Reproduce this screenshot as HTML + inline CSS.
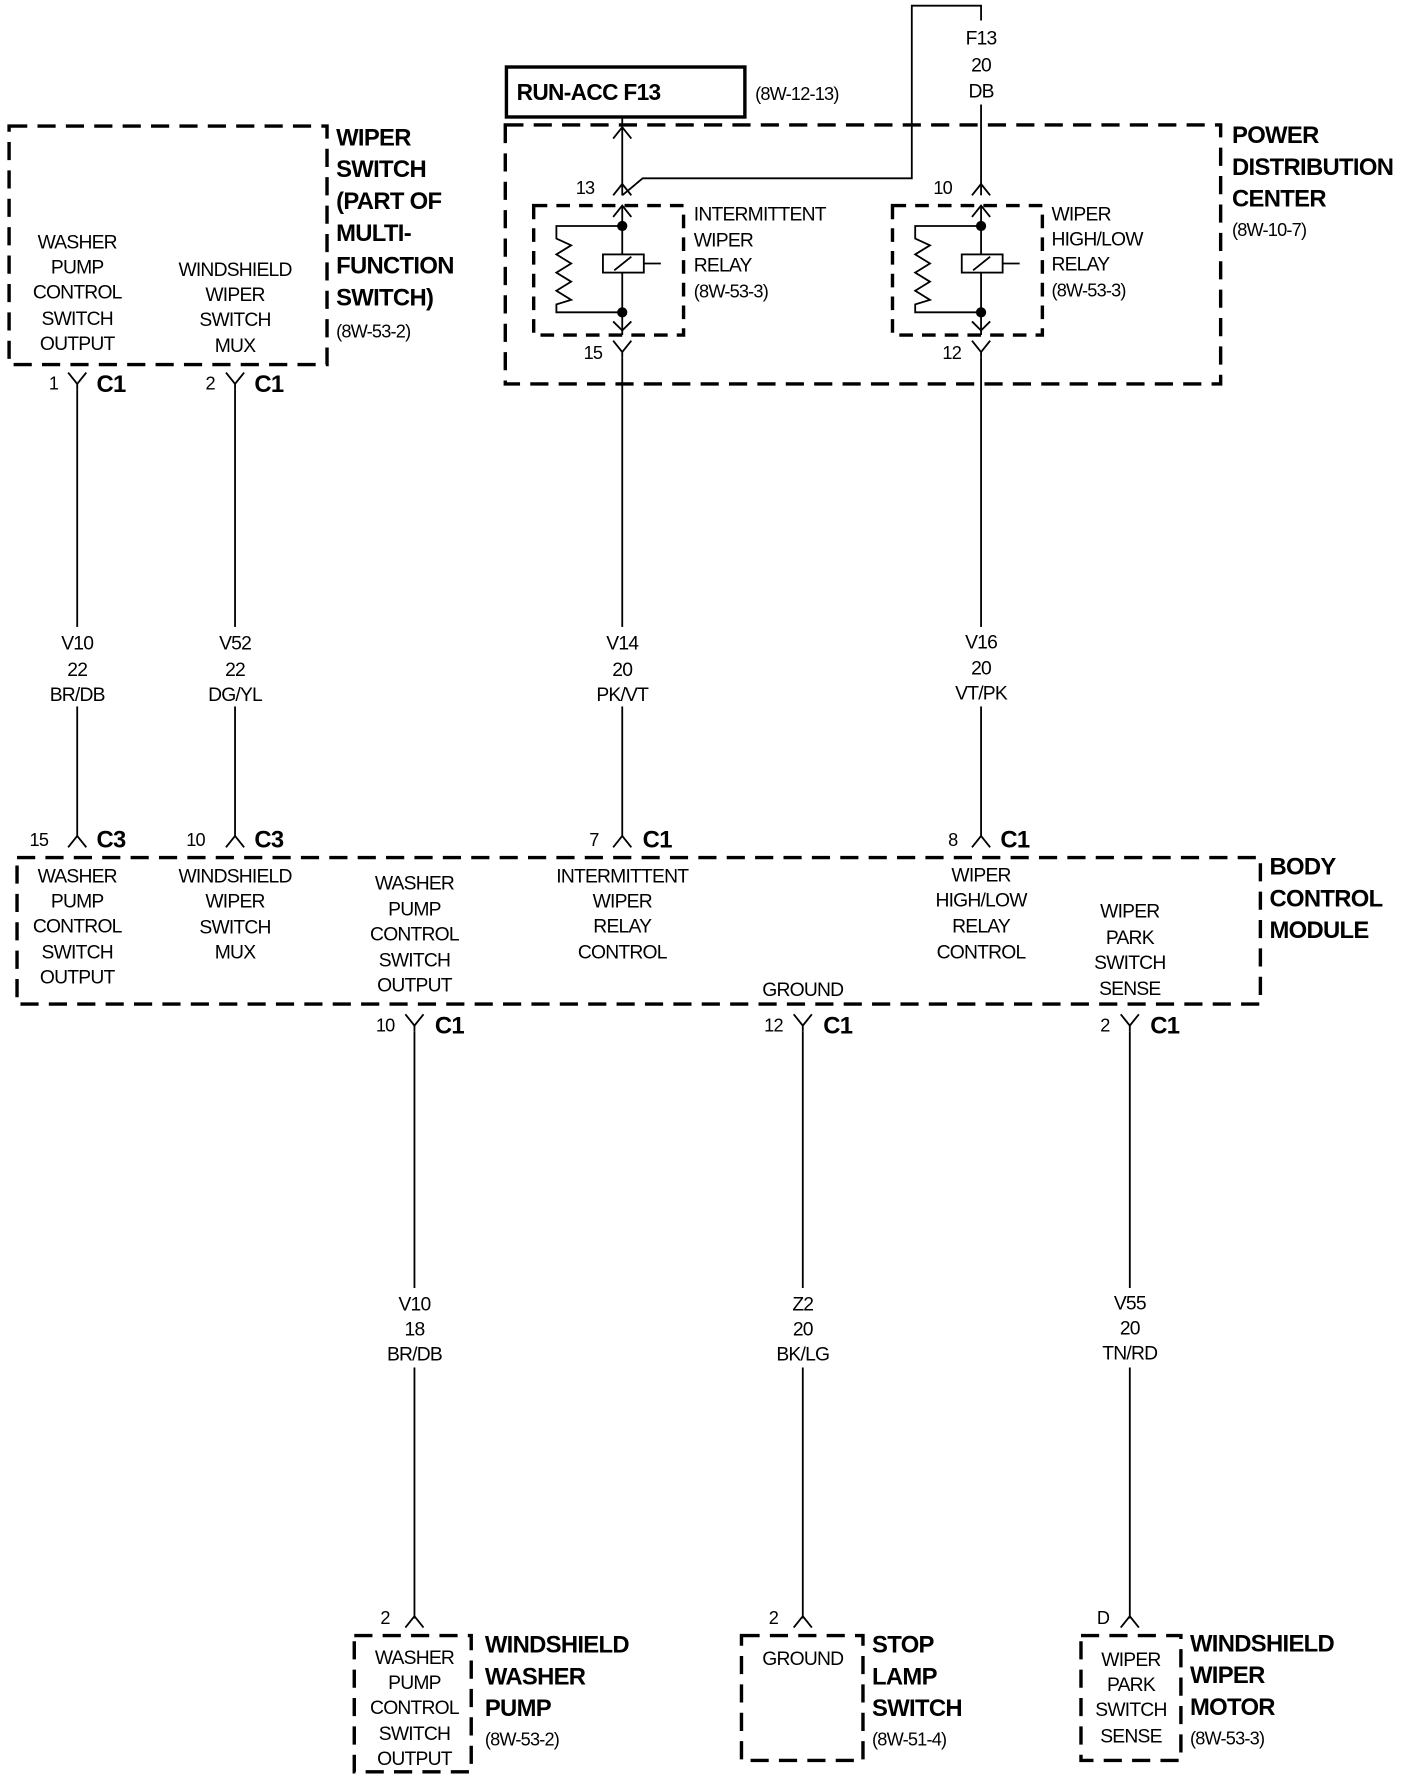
<!DOCTYPE html>
<html><head><meta charset="utf-8"><style>
html,body{margin:0;padding:0;background:#fff;}
svg{display:block;}
text{font-family:"Liberation Sans Narrow","Liberation Sans",sans-serif;font-size:17px;fill:#000;letter-spacing:-0.7px;}
.c{text-anchor:middle;}
.b{font-family:"Liberation Sans",sans-serif;font-weight:bold;font-size:21px;letter-spacing:-0.6px;}
.s{font-size:16px;}
.d{fill:none;stroke:#000;stroke-width:3;stroke-dasharray:16 9;}
.w{fill:none;stroke:#000;stroke-width:1.6;}
</style></head><body>
<svg width="1408" height="1790" viewBox="0 0 1240 1576" preserveAspectRatio="none" xmlns="http://www.w3.org/2000/svg">
<defs>
<g id="Y"><path class="w" d="M-8,-9 L0,1 L8,-9 M0,1 L0,6"/></g>
<g id="A"><path class="w" d="M-8,9 L0,-1 L8,9"/></g>
</defs>

<rect class="d" x="8" y="111" width="280" height="210"/>
<text class="b" x="296" y="128">WIPER</text>
<text class="b" x="296" y="156">SWITCH</text>
<text class="b" x="296" y="184">(PART OF</text>
<text class="b" x="296" y="212">MULTI-</text>
<text class="b" x="296" y="241">FUNCTION</text>
<text class="b" x="296" y="269">SWITCH)</text>
<text class="s" x="296" y="297">(8W-53-2)</text>
<text class="c" x="68" y="219">WASHER</text><text class="c" x="68" y="241">PUMP</text><text class="c" x="68" y="263">CONTROL</text><text class="c" x="68" y="286">SWITCH</text><text class="c" x="68" y="308">OUTPUT</text>
<text class="c" x="207" y="243">WINDSHIELD</text><text class="c" x="207" y="265">WIPER</text><text class="c" x="207" y="287">SWITCH</text><text class="c" x="207" y="310">MUX</text>

<use href="#Y" x="68" y="337"/><text class="s" x="43" y="343">1</text><text class="b" x="85" y="345">C1</text>
<use href="#Y" x="207" y="337"/><text class="s" x="181" y="343">2</text><text class="b" x="224" y="345">C1</text>

<rect x="446" y="59" width="210" height="44" fill="none" stroke="#000" stroke-width="3"/>
<text class="b" x="455" y="88" style="font-size:20px">RUN-ACC F13</text>
<text class="s" x="665" y="88">(8W-12-13)</text>

<rect class="d" x="445" y="110" width="630" height="228"/>
<text class="b" x="1085" y="126">POWER</text>
<text class="b" x="1085" y="154">DISTRIBUTION</text>
<text class="b" x="1085" y="182">CENTER</text>
<text class="s" x="1085" y="208">(8W-10-7)</text>

<path class="w" d="M548,103 L548,172"/>
<use href="#A" x="548" y="113"/>
<use href="#A" x="548" y="163"/>
<path class="w" d="M548,172 L566,157 L803,157 L803,5 L864,5 L864,18"/>
<text class="c" x="864" y="39">F13</text><text class="c" x="864" y="63">20</text><text class="c" x="864" y="86">DB</text>
<path class="w" d="M864,92 L864,172"/>
<use href="#A" x="864" y="163"/>
<text class="s" x="507" y="171">13</text>
<text class="s" x="822" y="171">10</text>

<g id="R">
<rect class="d" x="470" y="181" width="132" height="114" style="stroke-dasharray:12 8"/>
<path class="w" d="M548,181 L548,295"/>
<use href="#A" x="548" y="182"/>
<path class="w" d="M540,283 L548,291 L556,283"/>
<circle cx="548" cy="199" r="4.5"/><circle cx="548" cy="275" r="4.5"/>
<path class="w" d="M548,199 L490,199 L490,210 L503,216 L490,224 L503,232 L490,240 L503,248 L490,256 L503,264 L490,268 L490,275 L548,275"/>
<rect x="531" y="224" width="36" height="16" fill="#fff" stroke="#000" stroke-width="1.6"/>
<path class="w" d="M541,238 L556,226 M567,232 L582,232"/>
</g>
<use href="#R" x="316" y="0"/>
<text x="611" y="194">INTERMITTENT</text><text x="611" y="217">WIPER</text><text x="611" y="239">RELAY</text><text class="s" x="611" y="262">(8W-53-3)</text>
<text x="926" y="194">WIPER</text><text x="926" y="216">HIGH/LOW</text><text x="926" y="238">RELAY</text><text class="s" x="926" y="261">(8W-53-3)</text>

<use href="#Y" x="548" y="309"/><text class="s" x="514" y="316">15</text>
<use href="#Y" x="864" y="309"/><text class="s" x="830" y="316">12</text>

<path class="w" d="M68,343 L68,737 M207,343 L207,737 M548,315 L548,737 M864,315 L864,737"/>
<rect x="40" y="552" width="56" height="70" fill="#fff"/><rect x="180" y="552" width="56" height="70" fill="#fff"/><rect x="520" y="552" width="56" height="70" fill="#fff"/><rect x="836" y="552" width="56" height="70" fill="#fff"/>
<text class="c" x="68" y="572">V10</text><text class="c" x="68" y="595">22</text><text class="c" x="68" y="617">BR/DB</text>
<text class="c" x="207" y="572">V52</text><text class="c" x="207" y="595">22</text><text class="c" x="207" y="617">DG/YL</text>
<text class="c" x="548" y="572">V14</text><text class="c" x="548" y="595">20</text><text class="c" x="548" y="617">PK/VT</text>
<text class="c" x="864" y="571">V16</text><text class="c" x="864" y="594">20</text><text class="c" x="864" y="616">VT/PK</text>

<use href="#A" x="68" y="737"/><text class="s" x="26" y="745">15</text><text class="b" x="85" y="746">C3</text>
<use href="#A" x="207" y="737"/><text class="s" x="164" y="745">10</text><text class="b" x="224" y="746">C3</text>
<use href="#A" x="548" y="737"/><text class="s" x="519" y="745">7</text><text class="b" x="566" y="746">C1</text>
<use href="#A" x="864" y="737"/><text class="s" x="835" y="745">8</text><text class="b" x="881" y="746">C1</text>

<rect class="d" x="15" y="755" width="1095" height="129"/>
<text class="b" x="1118" y="770">BODY</text><text class="b" x="1118" y="798">CONTROL</text><text class="b" x="1118" y="826">MODULE</text>
<text class="c" x="68" y="777">WASHER</text><text class="c" x="68" y="799">PUMP</text><text class="c" x="68" y="821">CONTROL</text><text class="c" x="68" y="844">SWITCH</text><text class="c" x="68" y="866">OUTPUT</text>
<text class="c" x="207" y="777">WINDSHIELD</text><text class="c" x="207" y="799">WIPER</text><text class="c" x="207" y="822">SWITCH</text><text class="c" x="207" y="844">MUX</text>
<text class="c" x="365" y="783">WASHER</text><text class="c" x="365" y="806">PUMP</text><text class="c" x="365" y="828">CONTROL</text><text class="c" x="365" y="851">SWITCH</text><text class="c" x="365" y="873">OUTPUT</text>
<text class="c" x="548" y="777">INTERMITTENT</text><text class="c" x="548" y="799">WIPER</text><text class="c" x="548" y="821">RELAY</text><text class="c" x="548" y="844">CONTROL</text>
<text class="c" x="864" y="776">WIPER</text><text class="c" x="864" y="798">HIGH/LOW</text><text class="c" x="864" y="821">RELAY</text><text class="c" x="864" y="844">CONTROL</text>
<text class="c" x="995" y="808">WIPER</text><text class="c" x="995" y="831">PARK</text><text class="c" x="995" y="853">SWITCH</text><text class="c" x="995" y="876">SENSE</text>
<text class="c" x="707" y="877">GROUND</text>

<use href="#Y" x="365" y="902"/><text class="s" x="331" y="908">10</text><text class="b" x="383" y="910">C1</text>
<use href="#Y" x="707" y="902"/><text class="s" x="673" y="908">12</text><text class="b" x="725" y="910">C1</text>
<use href="#Y" x="995" y="902"/><text class="s" x="969" y="908">2</text><text class="b" x="1013" y="910">C1</text>

<path class="w" d="M365,908 L365,1425 M707,908 L707,1425 M995,908 L995,1425"/>
<rect x="337" y="1134" width="56" height="70" fill="#fff"/><rect x="679" y="1134" width="56" height="70" fill="#fff"/><rect x="967" y="1134" width="56" height="70" fill="#fff"/>
<text class="c" x="365" y="1154">V10</text><text class="c" x="365" y="1176">18</text><text class="c" x="365" y="1198">BR/DB</text>
<text class="c" x="707" y="1154">Z2</text><text class="c" x="707" y="1176">20</text><text class="c" x="707" y="1198">BK/LG</text>
<text class="c" x="995" y="1153">V55</text><text class="c" x="995" y="1175">20</text><text class="c" x="995" y="1197">TN/RD</text>

<use href="#A" x="365" y="1424"/><text class="s" x="335" y="1430">2</text>
<use href="#A" x="707" y="1424"/><text class="s" x="677" y="1430">2</text>
<use href="#A" x="995" y="1424"/><text class="s" x="966" y="1430">D</text>

<rect class="d" x="312" y="1440" width="103" height="120"/>
<text class="c" x="365" y="1465">WASHER</text><text class="c" x="365" y="1487">PUMP</text><text class="c" x="365" y="1509">CONTROL</text><text class="c" x="365" y="1532">SWITCH</text><text class="c" x="365" y="1554">OUTPUT</text>
<text class="b" x="427" y="1455">WINDSHIELD</text><text class="b" x="427" y="1483">WASHER</text><text class="b" x="427" y="1511">PUMP</text><text class="s" x="427" y="1537">(8W-53-2)</text>

<rect class="d" x="653" y="1440" width="107" height="110"/>
<text class="c" x="707" y="1466">GROUND</text>
<text class="b" x="768" y="1455">STOP</text><text class="b" x="768" y="1483">LAMP</text><text class="b" x="768" y="1511">SWITCH</text><text class="s" x="768" y="1537">(8W-51-4)</text>

<rect class="d" x="952" y="1440" width="88" height="110"/>
<text class="c" x="996" y="1467">WIPER</text><text class="c" x="996" y="1489">PARK</text><text class="c" x="996" y="1511">SWITCH</text><text class="c" x="996" y="1534">SENSE</text>
<text class="b" x="1048" y="1454">WINDSHIELD</text><text class="b" x="1048" y="1482">WIPER</text><text class="b" x="1048" y="1510">MOTOR</text><text class="s" x="1048" y="1536">(8W-53-3)</text>
</svg>
</body></html>
